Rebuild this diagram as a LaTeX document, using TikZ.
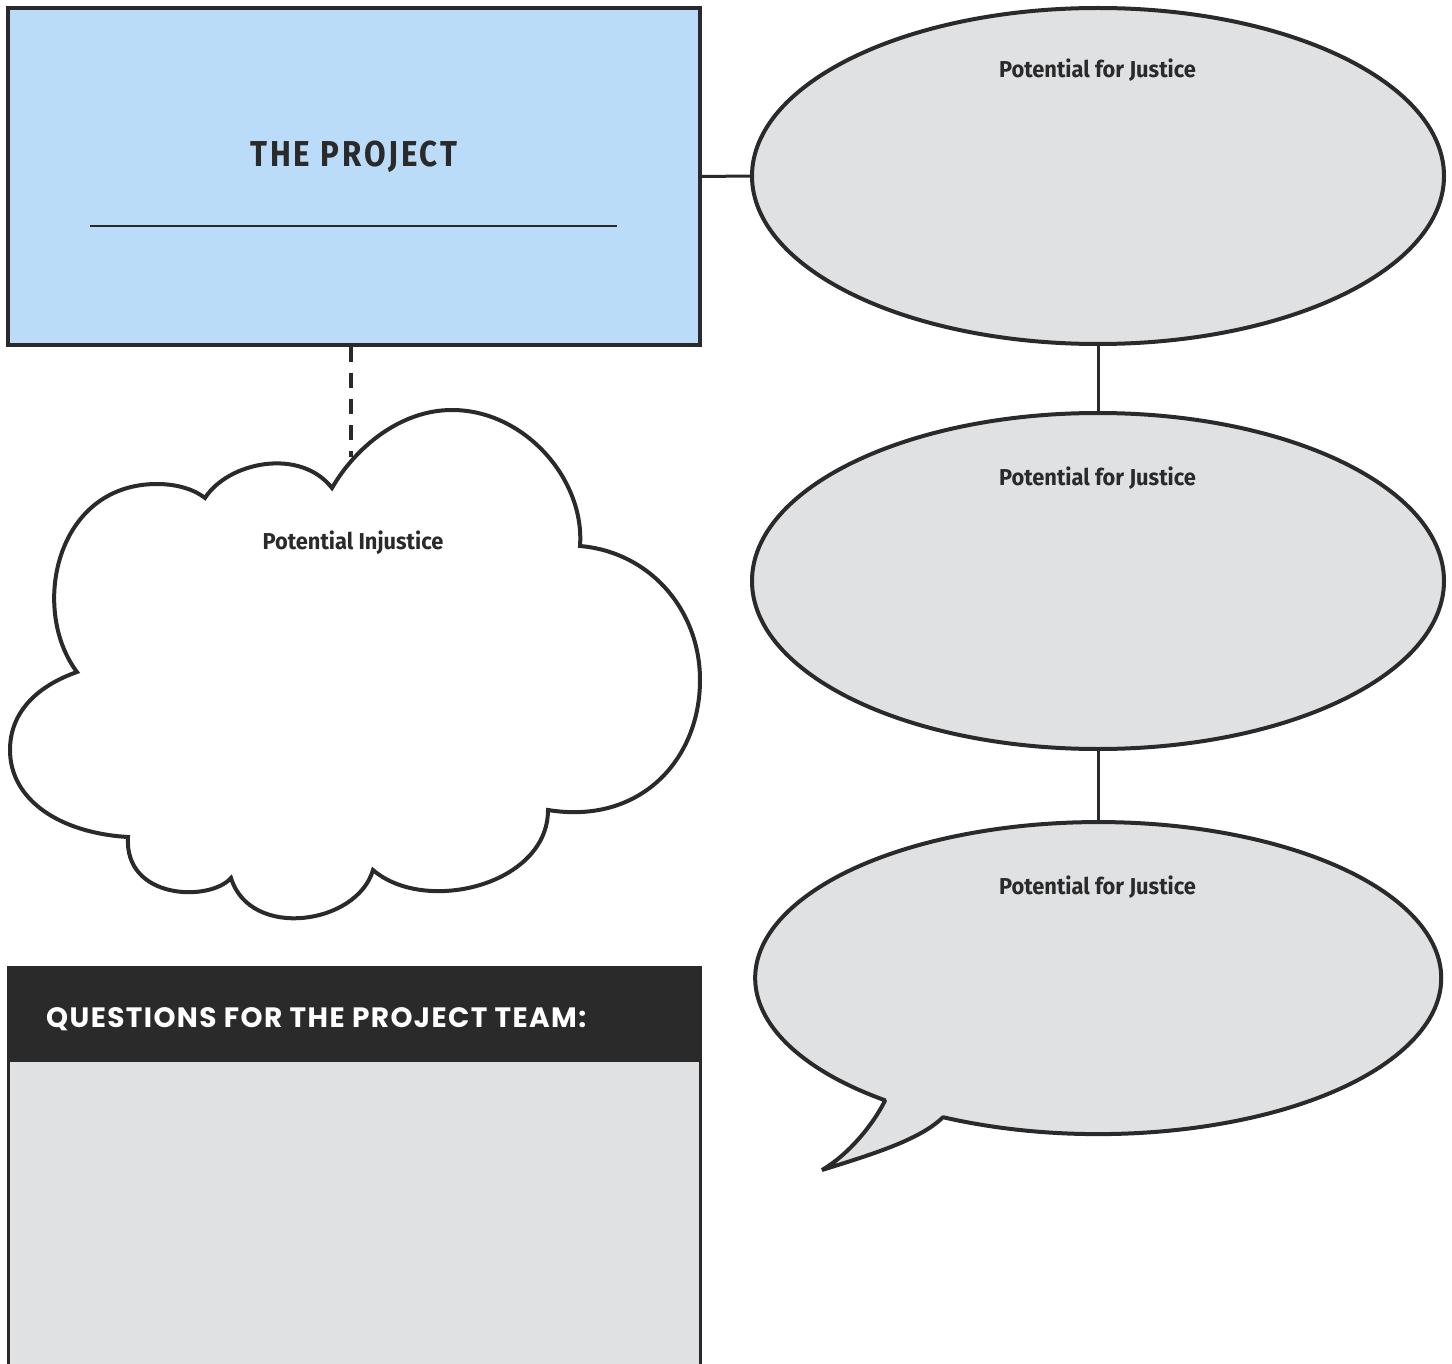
\documentclass[tikz,border=0pt]{standalone}
\usepackage{fontspec}
\setmainfont{Fira Sans}
\newfontfamily\condfont[FakeStretch=0.95]{Fira Sans}
\newfontfamily\titlefont[FakeStretch=0.87,LetterSpace=8]{Fira Sans}
\newfontfamily\headfont[LetterSpace=5]{Poppins}
\usetikzlibrary{shapes.geometric}

\definecolor{ink}{HTML}{2B2A2B}
\definecolor{skyfill}{HTML}{BBDCF8}
\definecolor{mist}{HTML}{E0E1E3}

\tikzset{
  outline/.style={draw=ink, line width=4pt},
  projbox/.style={outline, rectangle, fill=skyfill, inner sep=0pt,
    minimum width=692pt, minimum height=337pt},
  justice/.style={outline, ellipse, fill=mist, inner sep=0pt,
    minimum width=692pt, minimum height=336pt},
  ghost/.style={ellipse, inner sep=0pt, minimum width=686pt, minimum height=312pt},
  link/.style={draw=ink, line width=3pt},
  dashlink/.style={draw=ink, line width=3.5pt, dash pattern=on 15pt off 11pt},
  lbl/.style={text=ink, inner sep=0pt, anchor=base,
    font=\condfont\bfseries\fontsize{23}{26}\selectfont},
  projtitle/.style={text=ink, inner sep=0pt, anchor=base,
    font=\titlefont\bfseries\fontsize{36}{40}\selectfont},
  qhead/.style={rectangle, fill=ink, draw=ink, line width=3pt, inner sep=0pt,
    minimum width=692pt, minimum height=93pt},
  qbody/.style={rectangle, fill=mist, draw=ink, line width=3pt, inner sep=0pt,
    minimum width=692pt, minimum height=340pt},
  qtitle/.style={text=white, inner sep=0pt, anchor=base west,
    font=\headfont\bfseries\fontsize{28}{32}\selectfont},
  cloudshape/.style={draw=ink, line width=4pt, fill=white, line join=miter},
  bubble/.style={draw=ink, line width=4pt, fill=mist, line join=bevel},
}

\begin{document}
\begin{tikzpicture}[x=1pt,y=-1pt]
\useasboundingbox (0,0) rectangle (1452,1364);
\clip (0,0) rectangle (1452,1364);

% project card
\node[projbox] (proj) at (354,176.5) {};
\node[projtitle] (projname) at (354,167) {THE PROJECT};
\coordinate (ruleL) at (90,226);
\coordinate (ruleR) at (617,226);
\draw[ink, line width=2.5pt] (ruleL) -- (ruleR);

% chain of justice ellipses
\node[justice] (j1) at (1098,176) {};
\node[justice] (j2) at (1098,581) {};
\node[ghost] (j3) at (1098,978) {};

% speech bubble around the third ellipse
\path[bubble] (943,1117.2)
  arc[start angle=243.1, end angle=591.6, x radius=343pt, y radius=156pt]
  .. controls (873,1125) and (848,1155) .. (822,1170)
  .. controls (870,1155) and (920,1140) .. cycle;

\node[lbl] (j1lbl) at (1097.5,78) {Potential for Justice};
\node[lbl] (j2lbl) at (1097.5,485) {Potential for Justice};
\node[lbl] (j3lbl) at (1097.5,894) {Potential for Justice};

\draw[link] (proj.east) -- (j1.west);
\draw[link] (j1.south) -- (j2.north);
\draw[link] (j2.south) -- (j3.north);

% cloud of potential injustice
\coordinate (cloudtop) at (351,457);
\draw[dashlink] (cloudtop |- proj.south) -- (cloudtop);
\path[cloudshape] (332,488)
  .. controls (355,448) and (400,410) .. (452,410)
  .. controls (525,410) and (585,480) .. (580,546)
  .. controls (650,552) and (700,610) .. (700,680)
  .. controls (700,760) and (640,825) .. (548,810)
  .. controls (548,885) and (425,915) .. (373,870)
  .. controls (357,925) and (250,940) .. (231,878)
  .. controls (210,902) and (124,900) .. (128,837)
  .. controls (60,833) and (10,800) .. (10,750)
  .. controls (10,710) and (40,685) .. (77,672)
  .. controls (30,610) and (55,484) .. (157,484)
  .. controls (178,484) and (195,490) .. (205,498)
  .. controls (228,462) and (300,447) .. cycle;
\node[lbl] (injlbl) at (353,549) {Potential Injustice};

% questions panel
\node[qbody] (qbody) at (354,1230) {};
\node[qhead] (qhead) at (354,1013.5) {};
\node[qtitle] (qtext) at (46,1027) {QUESTIONS FOR THE PROJECT TEAM:};
\end{tikzpicture}
\end{document}
